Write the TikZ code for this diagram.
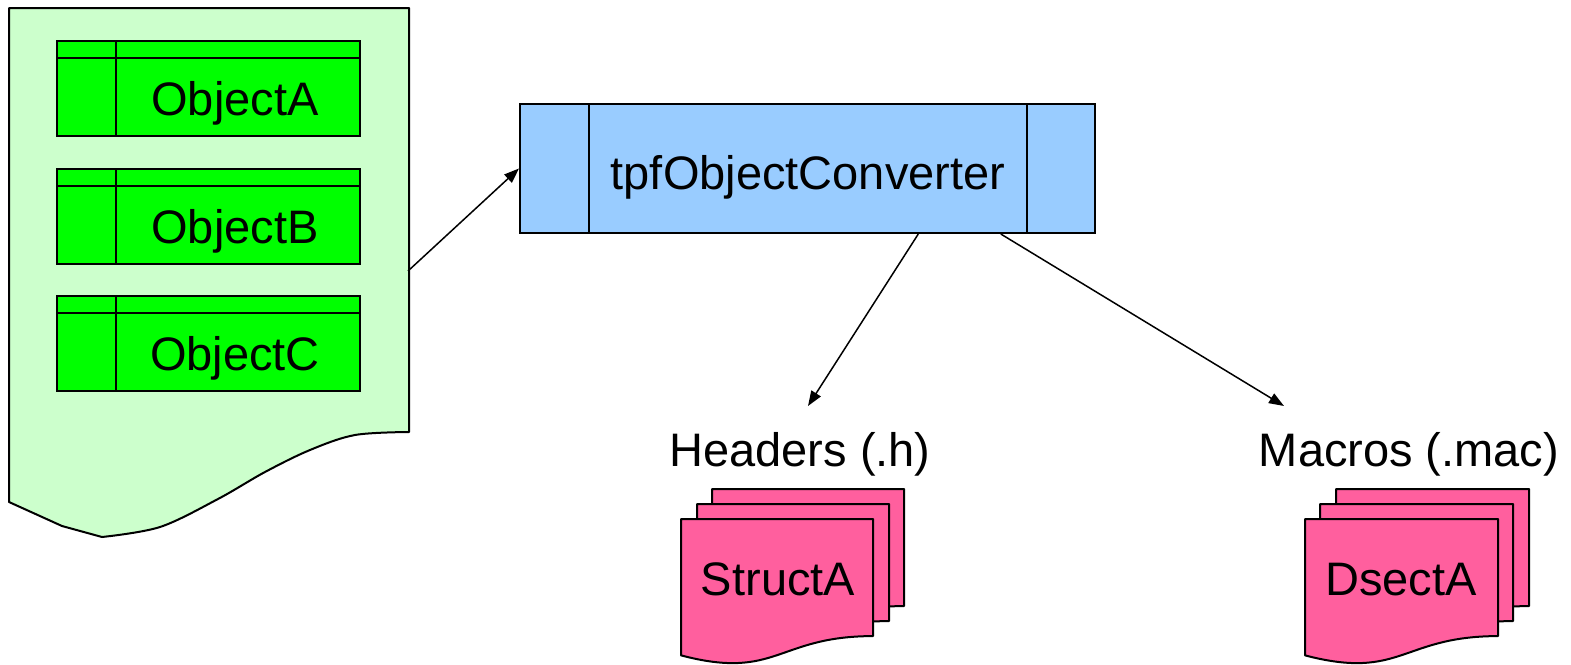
\documentclass[tikz,border=0pt]{standalone}
\usepackage{fontspec}
\setmainfont{Liberation Sans}
\usetikzlibrary{arrows.meta,calc}
\definecolor{paleGreen}{HTML}{CCFFCC}
\definecolor{objGreen}{HTML}{00FF00}
\definecolor{convBlue}{HTML}{99CCFF}
\definecolor{outPink}{HTML}{FF5F9E}

% flowchart "document" outline: style, left, top, width, height
\newcommand\flowdoc[5]{%
  \draw[#1] (#2,#3) -- ({#2+#4},#3) -- ({#2+#4},{#3+0.802*#5})
    .. controls ({#2+0.5*#4},{#3+0.802*#5}) and ({#2+0.5*#4},{#3+1.107*#5})
    .. (#2,{#3+0.934*#5}) -- cycle;}

\begin{document}
\begin{tikzpicture}[x=1pt, y={(0pt,-1pt)},
  font=\fontsize{47}{56}\selectfont,
  shape line/.style={draw=black, line width=2pt},
  objbox/.style={shape line, fill=objGreen, rectangle, inner sep=0pt,
    minimum width=303pt, minimum height=95pt},
  convbox/.style={shape line, fill=convBlue, rectangle, inner sep=0pt,
    minimum width=575pt, minimum height=129pt},
  lbl/.style={anchor=base, inner sep=0pt},
  flow/.style={draw=black, line width=1.5pt, -{Triangle[length=15pt,width=11pt]}},
  pinkdoc/.style={shape line, fill=outPink, line join=round},
]
\useasboundingbox (0,0) rectangle (1571,664);

% source file holding the objects, with its wavy lower edge
\draw[shape line, fill=paleGreen, line join=round]
  (9,8) -- (409,8)
  -- plot[smooth, tension=0.55] coordinates {(409,432) (355,435) (310,450) (265,472) (218,499) (160,527) (102,537)}
  -- (62,526) -- (9,502) -- cycle;
\coordinate (srcR) at (408,271);

% object records
\foreach \nm/\yc/\txt in {objA/88.5/ObjectA, objB/216.5/ObjectB, objC/343.5/ObjectC}{
  \node[objbox] (\nm) at (208.5,\yc) {};
  \draw[line width=2pt] ($(\nm.north west)+(0,18)$) -- ($(\nm.north east)+(0,18)$);
  \draw[line width=2pt] ($(\nm.north west)+(60,0)$) -- ($(\nm.south west)+(60,0)$);
  \node[lbl] (\nm-t) at ($(\nm.south west)+(179,-22)$) {\txt};
}

% converter process
\node[convbox] (conv) at (807.5,168.5) {};
\draw[line width=2pt] ($(conv.north west)+(70,0)$) -- ($(conv.south west)+(70,0)$);
\draw[line width=2pt] ($(conv.north east)+(-69,0)$) -- ($(conv.south east)+(-69,0)$);
\node[lbl] (conv-t) at (808,189) {tpfObjectConverter};

% output labels
\node[lbl] (hdr) at (800,466) {Headers (.h)};
\node[lbl] (mac) at (1409,466) {Macros (.mac)};

% stacked output files
\foreach \dx/\dy in {1336/489,1320/504,1305/519}{ \flowdoc{pinkdoc}{\dx}{\dy}{193}{146} }
\foreach \dx/\dy in {712/489,697/504,681/519}{ \flowdoc{pinkdoc}{\dx}{\dy}{192}{146} }
\node[lbl] (structA) at (778,595) {StructA};
\node[lbl] (dsectA) at (1401,595) {DsectA};

% connectors
\coordinate (convH) at ($(conv.south west)!0.692!(conv.south east)$);
\coordinate (convM) at ($(conv.south west)!0.835!(conv.south east)$);
\coordinate (hdrIn) at (808,406);
\coordinate (macIn) at (1284,406);
\draw[flow] (srcR) -- (conv.west);
\draw[flow] (convH) -- (hdrIn);
\draw[flow] (convM) -- (macIn);
\end{tikzpicture}
\end{document}
